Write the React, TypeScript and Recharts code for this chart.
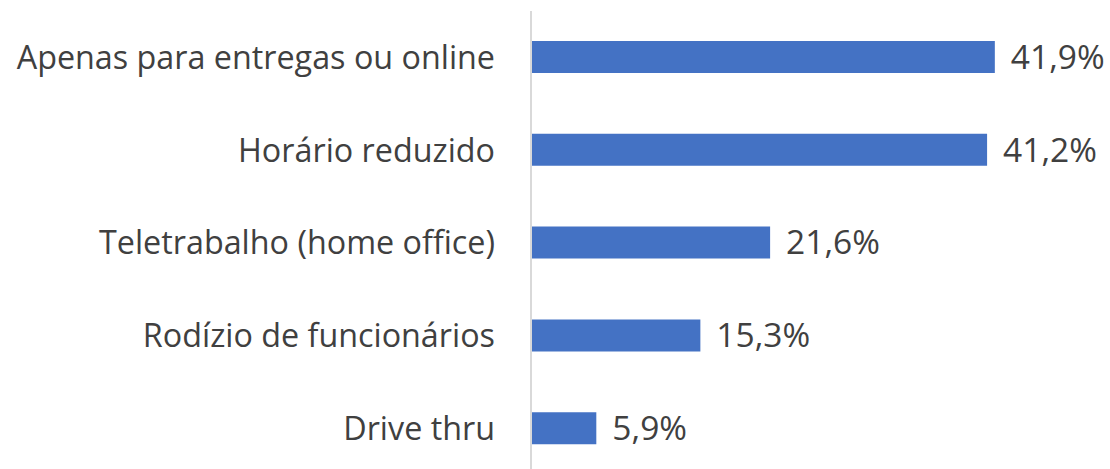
import { Bar, BarChart, XAxis, YAxis, LabelList } from 'recharts';

const categories = [
  'Apenas para entregas ou online',
  'Horário reduzido',
  'Teletrabalho (home office)',
  'Rodízio de funcionários',
  'Drive thru',
];
const shares = [41.9, 41.2, 21.6, 15.3, 5.9];

const data = categories.map((name, i) => ({ name, value: shares[i] }));

const fmt = (v: number) => `${v.toFixed(1).replace('.', ',')}%`;

const font = '"Open Sans", sans-serif';

export default function App() {
  return (
    <div style={{ position: 'absolute', left: 0, top: 0, background: '#fff' }}>
      <BarChart
        width={1110}
        height={475}
        data={data}
        layout="vertical"
        margin={{ top: 11, right: 25.5, bottom: 0, left: 0 }}
      >
        <XAxis type="number" domain={[0, 50]} hide />
        <YAxis
          type="category"
          dataKey="name"
          width={531}
          tickSize={0}
          tickMargin={36}
          tickLine={false}
          axisLine={{ stroke: '#d9d9d9', strokeWidth: 2 }}
          tick={{ fill: '#404040', fontSize: 32.3, fontFamily: font }}
          interval={0}
        />
        <Bar dataKey="value" fill="#4472c4" barSize={32} isAnimationActive={false}>
          <LabelList
            dataKey="value"
            position="right"
            offset={16}
            formatter={(v: number) => fmt(v)}
            style={{ fill: '#404040', fontSize: 33.5, fontFamily: font }}
          />
        </Bar>
      </BarChart>
    </div>
  );
}
